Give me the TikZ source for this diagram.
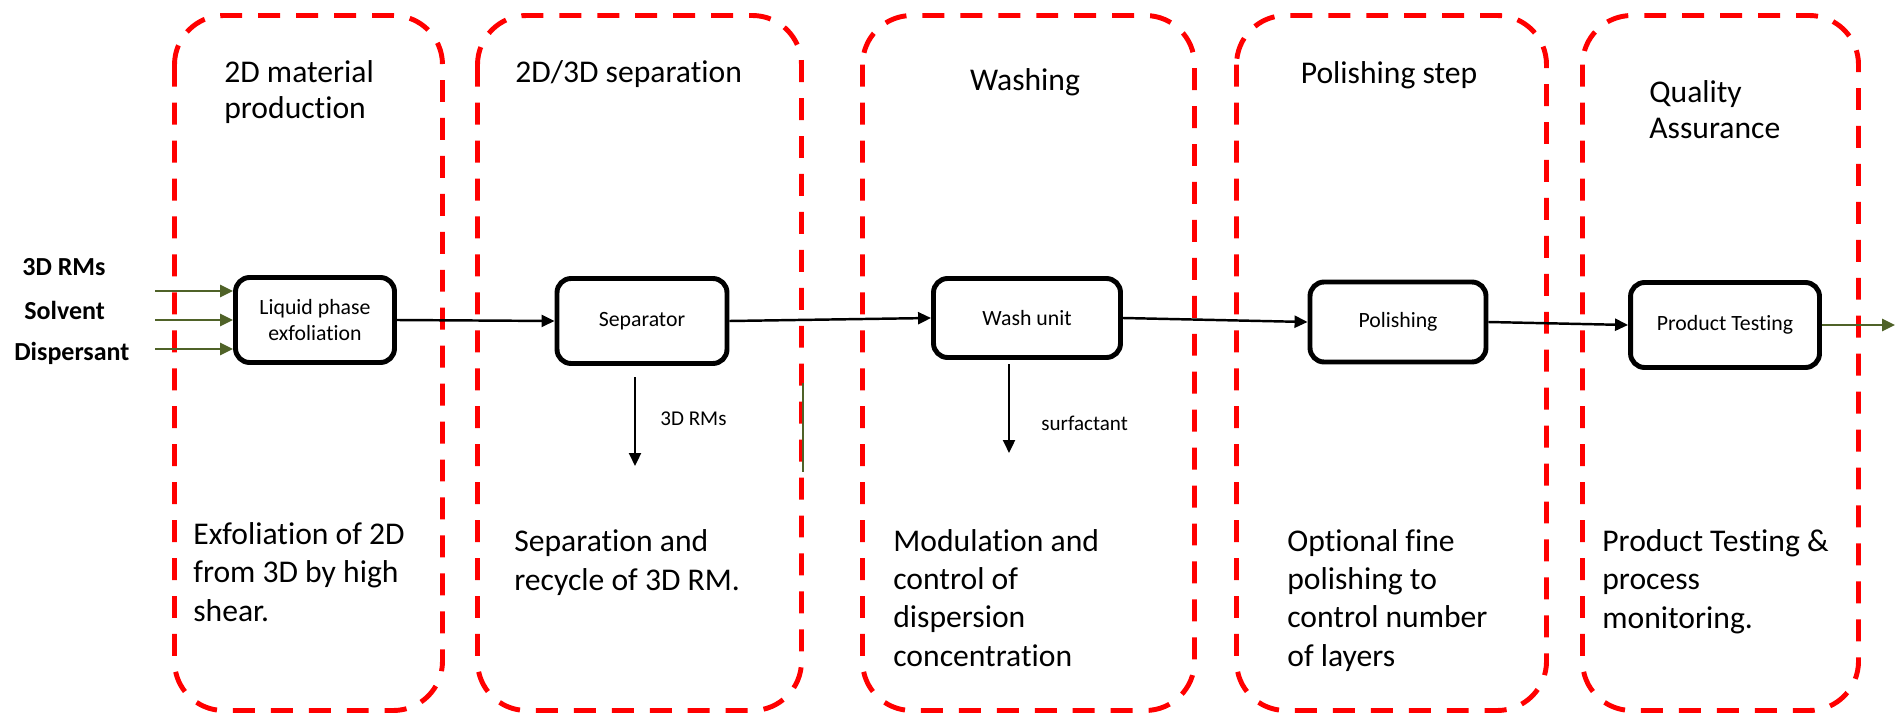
\documentclass[tikz,border=0pt]{standalone}
\usepackage{fontspec}
\setmainfont{Carlito}[Ligatures=NoCommon]
\usetikzlibrary{arrows.meta,positioning}
\definecolor{stageRed}{HTML}{FF0000}
\definecolor{feedGreen}{HTML}{4F6228}
\tikzset{
  stage frame/.style={draw=stageRed, line width=2.8pt,
    dash pattern=on 12.5pt off 9.1pt, rounded corners=28pt},
  unit box/.style={draw=black, line width=2.8pt, rounded corners=8pt,
    fill=white, align=center, inner sep=2pt,
    font=\fontsize{12.4}{14.6}\selectfont},
  flow/.style={-{Triangle[length=7.4pt,width=6.8pt]}, line width=1.4pt,
    draw=black},
  feed/.style={-{Triangle[length=7.4pt,width=6.8pt]}, line width=1.7pt,
    draw=feedGreen},
  feed label/.style={font=\bfseries\fontsize{14.8}{17}\selectfont,
    anchor=base west, inner sep=0pt},
  side label/.style={font=\fontsize{12}{14}\selectfont, anchor=west,
    inner sep=0pt},
  stage title/.style={font=\fontsize{18}{21}\selectfont, align=left,
    inner sep=0pt},
  stage note/.style={font=\fontsize{18}{21.8}\selectfont, align=left,
    anchor=base west, inner sep=0pt}
}

\begin{document}
\begin{tikzpicture}[x=0.02cm, y=-0.02cm]
  \useasboundingbox (0,0) rectangle (1895,726);

  % stage frames
  \draw[stage frame] (174.5,15.5) rectangle (442.5,710.5);
  \draw[stage frame] (477.5,15.5) rectangle (801.5,710.5);
  \draw[stage frame] (862.5,15.5) rectangle (1194.5,710.5);
  \draw[stage frame] (1236.5,15.5) rectangle (1546.5,710.5);
  \draw[stage frame] (1582.5,15.5) rectangle (1858.5,710.5);

  % stage titles (base = last line)
  \node[stage title, anchor=base west] (tProd) at (224,119) {2D material\\production};
  \node[stage title, anchor=base west] (tSep) at (515,83) {2D/3D separation};
  \node[stage title, anchor=base] (tWash) at (1025,91) {Washing};
  \node[stage title, anchor=base] (tPol) at (1389,84) {Polishing step};
  \node[stage title, anchor=base west] (tQual) at (1649,139) {Quality\\Assurance};

  % process units
  \node[unit box, minimum width=3.18cm, minimum height=1.7cm] (lpe) at (315,320) {Liquid phase\\exfoliation};
  \node[unit box, minimum width=3.4cm, minimum height=1.7cm] (sep) at (642,321) {Separator};
  \node[unit box, minimum width=3.74cm, minimum height=1.58cm] (wash) at (1027,318) {Wash unit};
  \node[unit box, minimum width=3.52cm, minimum height=1.6cm] (pol) at (1398,322) {Polishing};
  \node[unit box, minimum width=3.78cm, minimum height=1.7cm] (test) at (1725,325) {Product Testing};

  % feeds
  \node[feed label] (fRM) at (22,275) {3D RMs};
  \node[feed label] (fSolv) at (24,319) {Solvent};
  \node[feed label] (fDisp) at (14,360) {Dispersant};
  \coordinate (inRM) at (155,291);
  \coordinate (inSolv) at (155,320);
  \coordinate (inDisp) at (155,349);
  \draw[feed] (inRM) -- (inRM -| lpe.west);
  \draw[feed] (inSolv) -- (inSolv -| lpe.west);
  \draw[feed] (inDisp) -- (inDisp -| lpe.west);

  % main line
  \draw[flow] (lpe.east) -- (sep.west);
  \draw[flow] (sep.east) -- (wash.west);
  \draw[flow] (wash.east) -- (pol.west);
  \draw[flow] (pol.east) -- (test.west);
  \coordinate (outProd) at (1895,325);
  \draw[feed] (test.east) -- (outProd);

  % side streams
  \coordinate (rmTop) at (635,377);
  \coordinate (rmEnd) at (635,466);
  \draw[flow] (rmTop) -- (rmEnd);
  \node[side label] (rmLabel) at (660,419) {3D RMs};
  \coordinate (surfTop) at (1009,364);
  \coordinate (surfEnd) at (1009,453);
  \draw[flow] (surfTop) -- (surfEnd);
  \node[side label] (surfLabel) at (1041,423) {surfactant};
  \coordinate (strayTop) at (803,383);
  \coordinate (strayEnd) at (803,472);
  \draw[feedGreen, line width=0.6pt] (strayTop) -- (strayEnd);

  % stage notes (base = last line)
  \node[stage note] (nProd) at (193,621) {Exfoliation of 2D\\from 3D by high\\shear.};
  \node[stage note] (nSep) at (514,590) {Separation and\\recycle of 3D RM.};
  \node[stage note] (nWash) at (893,666) {Modulation and\\control of\\dispersion\\concentration};
  \node[stage note] (nPol) at (1287,666) {Optional fine\\polishing to\\control number\\of layers};
  \node[stage note] (nQual) at (1602,628) {Product Testing \&\\process\\monitoring.};
\end{tikzpicture}
\end{document}
